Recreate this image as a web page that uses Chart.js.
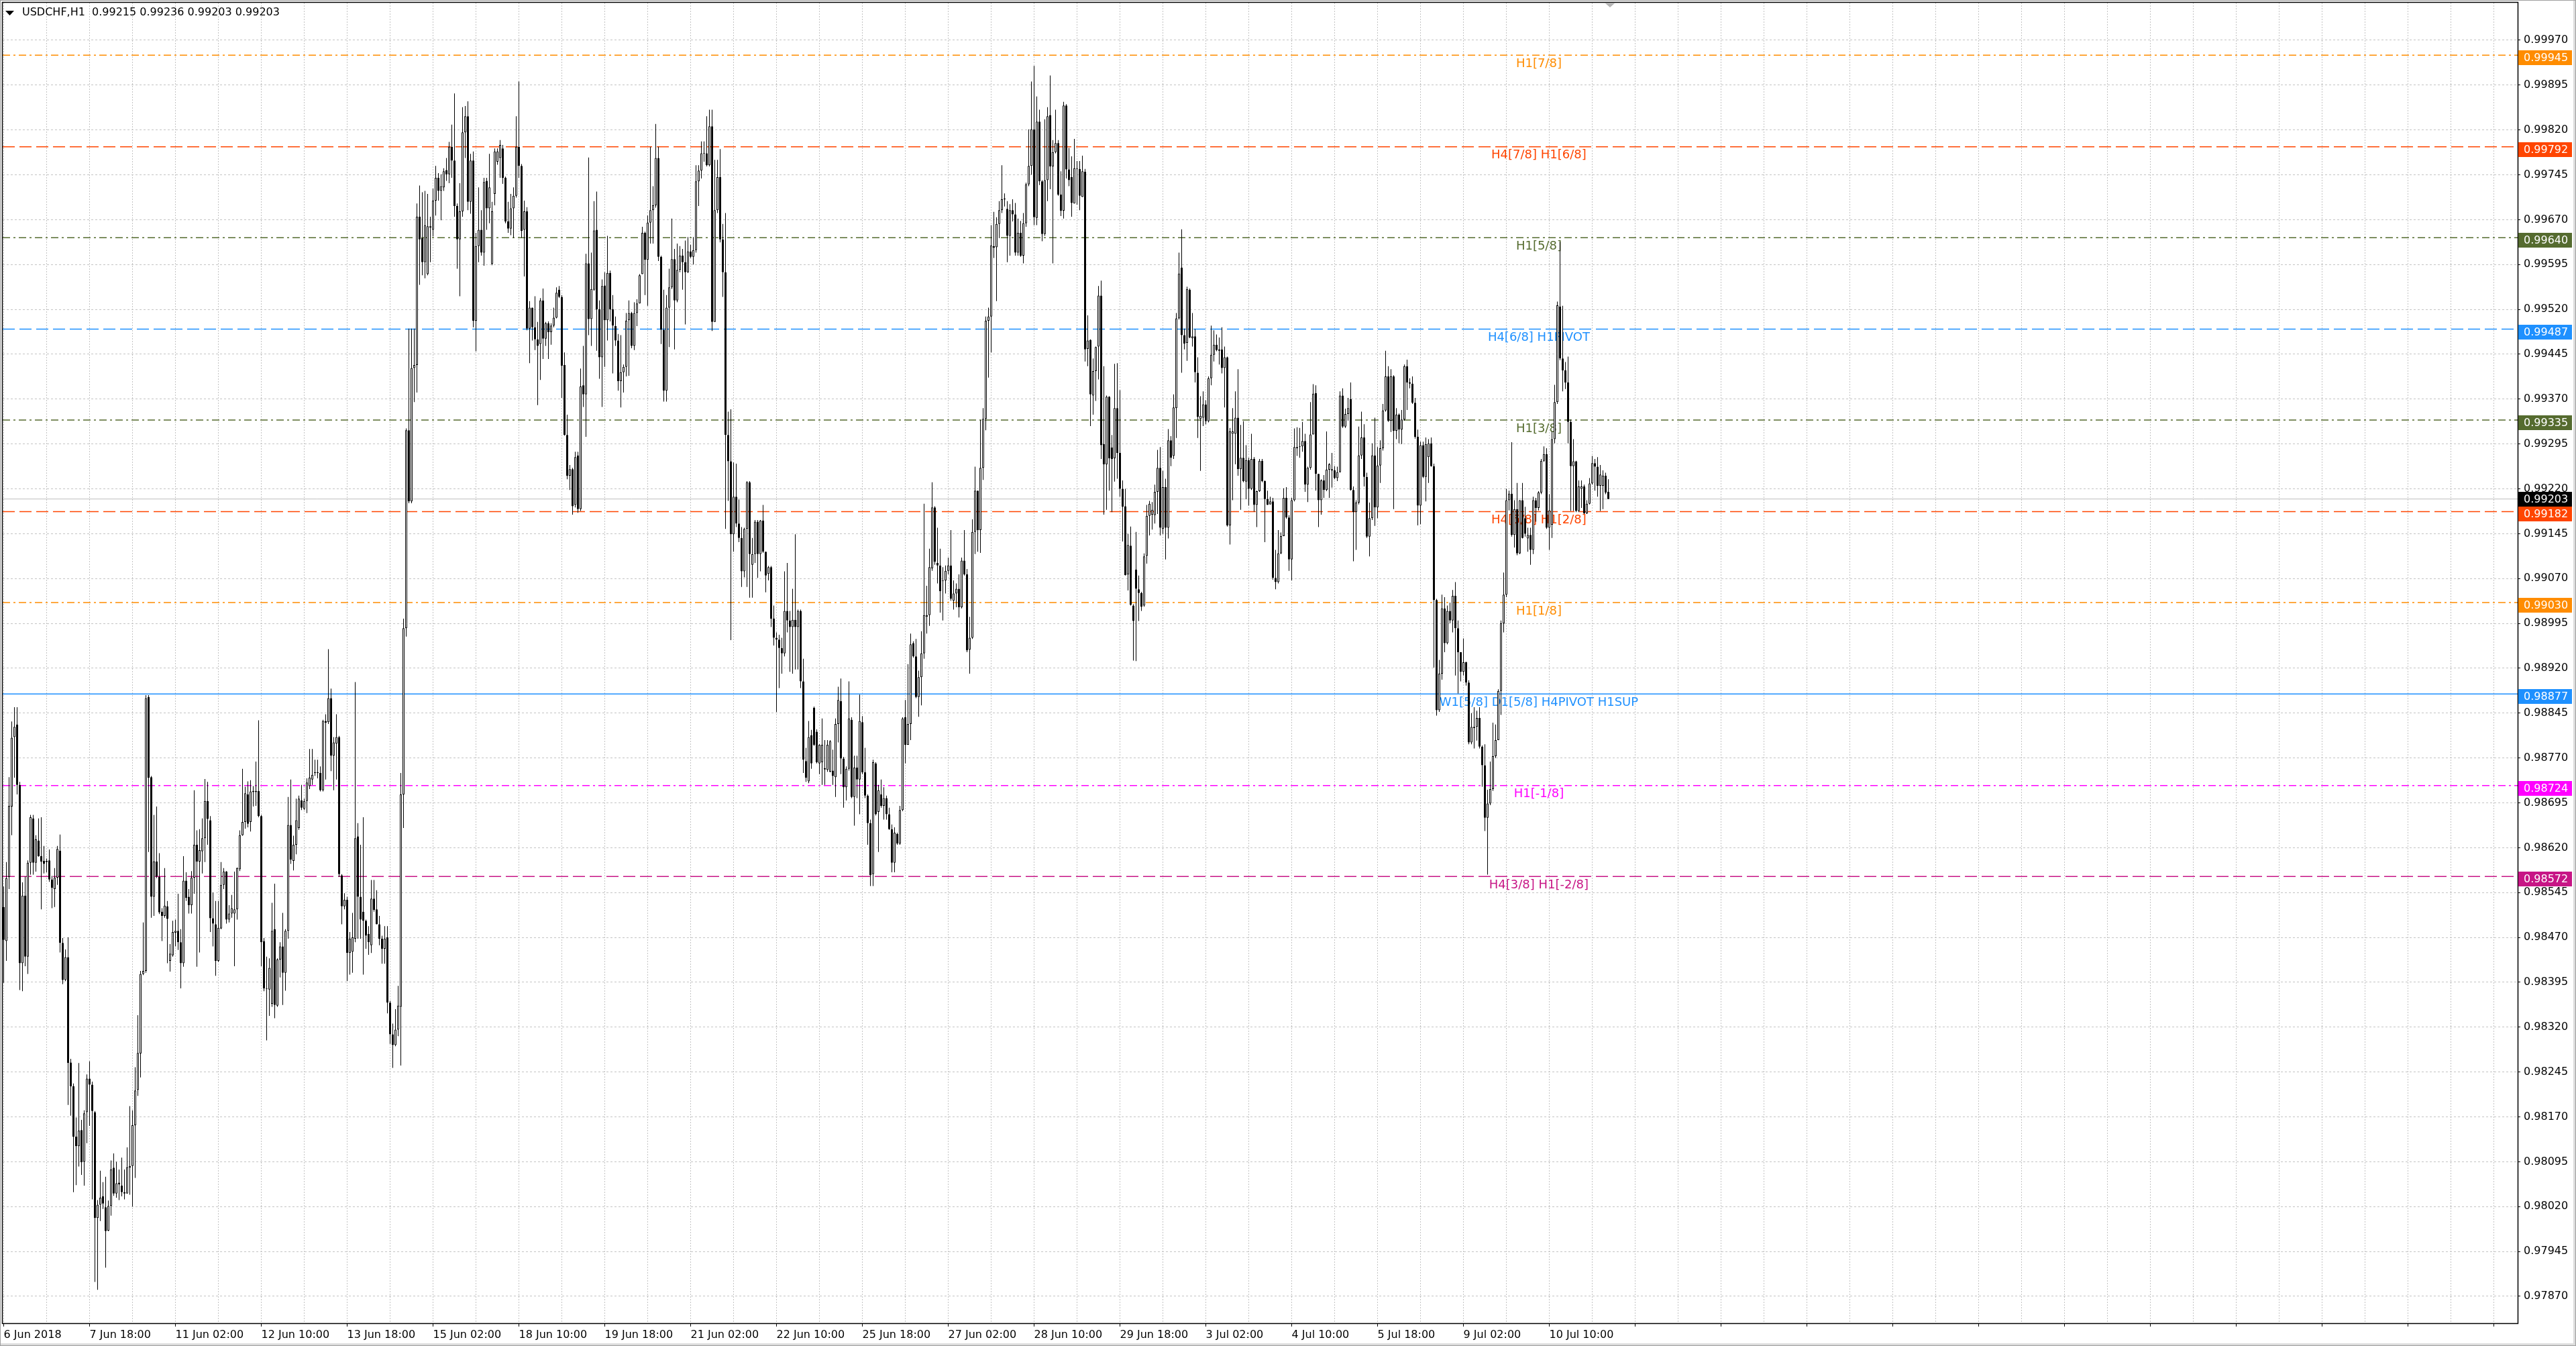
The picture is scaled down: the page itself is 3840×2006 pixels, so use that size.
<!DOCTYPE html>
<html><head><meta charset="utf-8">
<script src="https://cdn.jsdelivr.net/npm/chart.js@4.4.1/dist/chart.umd.min.js"></script>
<style>html,body{margin:0;padding:0;background:#fff;overflow:hidden}canvas{display:block}</style>
</head><body>
<canvas id="c" width="3840" height="2006" style="width:3840px;height:2006px"></canvas>
<script>
const symbol = "USDCHF,H1";
const timeLabels = ["6 Jun 2018","7 Jun 18:00","11 Jun 02:00","12 Jun 10:00","13 Jun 18:00","15 Jun 02:00","18 Jun 10:00","19 Jun 18:00","21 Jun 02:00","22 Jun 10:00","25 Jun 18:00","27 Jun 02:00","28 Jun 10:00","29 Jun 18:00","3 Jul 02:00","4 Jul 10:00","5 Jul 18:00","9 Jul 02:00","10 Jul 10:00"];
const priceTicks = [0.97870,0.97945,0.98020,0.98095,0.98170,0.98245,0.98320,0.98395,0.98470,0.98545,0.98620,0.98695,0.98770,0.98845,0.98920,0.98995,0.99070,0.99145,0.99220,0.99295,0.99370,0.99445,0.99520,0.99595,0.99670,0.99745,0.99820,0.99895,0.99970];
const levelPrices = [0.99945,0.99792,0.99640,0.99487,0.99335,0.99182,0.99030,0.98877,0.98724,0.98572];
const levelNames = ["H1[7/8]","H4[7/8] H1[6/8]","H1[5/8]","H4[6/8] H1PIVOT","H1[3/8]","H4[5/8] H1[2/8]","H1[1/8]","W1[5/8] D1[5/8] H4PIVOT H1SUP","H1[-1/8]","H4[3/8] H1[-2/8]"];
const bidPrice = 0.99203;

const open = [
0.98521,0.98464,0.98571,0.98689,0.98805,0.98826,0.98725,0.98427,0.98540,0.98438,0.98595,0.98669,0.98595,0.98632,0.98606,0.98598,0.98598,0.98599,0.98567,0.98551,
0.98570,0.98615,0.98461,0.98399,0.98437,0.98261,0.98221,0.98137,0.98121,0.98148,0.98095,0.98178,0.98234,0.98224,0.98178,0.98001,0.98023,0.98037,0.98019,0.97980,
0.98021,0.98085,0.98042,0.98060,0.98055,0.98042,0.98042,0.98085,0.98088,0.98156,0.98215,0.98276,0.98409,0.98414,0.98872,0.98738,0.98538,0.98597,0.98571,0.98513,
0.98506,0.98522,0.98431,0.98440,0.98478,0.98481,0.98462,0.98427,0.98565,0.98538,0.98524,0.98570,0.98625,0.98597,0.98614,0.98636,0.98698,0.98666,0.98502,0.98492,
0.98431,0.98485,0.98558,0.98580,0.98500,0.98510,0.98510,0.98517,0.98584,0.98641,0.98663,0.98709,0.98663,0.98713,0.98713,0.98715,0.98673,0.98464,0.98384,0.98383,
0.98359,0.98484,0.98356,0.98433,0.98455,0.98411,0.98481,0.98658,0.98598,0.98625,0.98653,0.98699,0.98685,0.98698,0.98723,0.98734,0.98745,0.98746,0.98745,0.98716,
0.98832,0.98830,0.98870,0.98774,0.98794,0.98805,0.98574,0.98522,0.98533,0.98444,0.98446,0.98468,0.98639,0.98538,0.98513,0.98498,0.98476,0.98457,0.98535,0.98517,
0.98492,0.98468,0.98451,0.98470,0.98361,0.98308,0.98290,0.98316,0.98354,0.98709,0.98987,0.99318,0.99199,0.99422,0.99427,0.99675,0.99639,0.99599,0.99579,0.99659,
0.99653,0.99702,0.99740,0.99718,0.99724,0.99753,0.99746,0.99792,0.99769,0.99693,0.99637,0.99684,0.99816,0.99843,0.99700,0.99769,0.99501,0.99626,0.99653,0.99615,
0.99735,0.99689,0.99596,0.99713,0.99767,0.99773,0.99789,0.99740,0.99667,0.99655,0.99689,0.99710,0.99792,0.99760,0.99653,0.99684,0.99488,0.99523,0.99490,0.99470,
0.99462,0.99535,0.99471,0.99497,0.99482,0.99493,0.99506,0.99553,0.99541,0.99427,0.99310,0.99242,0.99253,0.99193,0.99276,0.99186,0.99393,0.99378,0.99597,0.99504,
0.99553,0.99653,0.99520,0.99440,0.99560,0.99502,0.99581,0.99520,0.99492,0.99468,0.99400,0.99415,0.99424,0.99502,0.99514,0.99459,0.99514,0.99530,0.99579,0.99648,
0.99603,0.99665,0.99686,0.99694,0.99773,0.99608,0.99486,0.99384,0.99523,0.99557,0.99604,0.99535,0.99586,0.99610,0.99599,0.99582,0.99617,0.99608,0.99619,0.99734,
0.99752,0.99781,0.99781,0.99761,0.99826,0.99499,0.99686,0.99741,0.99637,0.99582,0.99310,0.99266,0.99144,0.99207,0.99162,0.99138,0.99082,0.99153,0.99231,0.99093,
0.99111,0.99165,0.99111,0.99167,0.99115,0.99078,0.99089,0.99003,0.98971,0.98968,0.98954,0.98945,0.99016,0.99000,0.98989,0.99001,0.98989,0.99016,0.98898,0.98765,
0.98731,0.98808,0.98854,0.98814,0.98761,0.98763,0.98753,0.98750,0.98747,0.98749,0.98738,0.98827,0.98865,0.98769,0.98721,0.98752,0.98834,0.98705,0.98754,0.98734,
0.98830,0.98746,0.98707,0.98661,0.98576,0.98761,0.98680,0.98709,0.98690,0.98703,0.98676,0.98651,0.98595,0.98643,0.98627,0.98683,0.98838,0.98792,0.98827,0.98962,
0.98940,0.98872,0.98905,0.98945,0.99006,0.99009,0.99087,0.99189,0.99096,0.99092,0.99066,0.99067,0.99083,0.99092,0.99033,0.99045,0.99053,0.99022,0.99100,0.99077,
0.98951,0.98971,0.99148,0.99217,0.99151,0.99255,0.99337,0.99501,0.99508,0.99626,0.99624,0.99663,0.99686,0.99704,0.99688,0.99643,0.99686,0.99679,0.99615,0.99648,
0.99610,0.99664,0.99729,0.99760,0.99821,0.99673,0.99834,0.99734,0.99646,0.99736,0.99845,0.99759,0.99783,0.99798,0.99712,0.99685,0.99861,0.99754,0.99741,0.99697,
0.99756,0.99755,0.99708,0.99750,0.99454,0.99469,0.99376,0.99417,0.99458,0.99543,0.99295,0.99261,0.99374,0.99289,0.99271,0.99355,0.99280,0.99220,0.99191,0.99077,
0.99125,0.99025,0.99085,0.99052,0.99046,0.99025,0.99108,0.99175,0.99177,0.99176,0.99215,0.99255,0.99153,0.99223,0.99155,0.99301,0.99275,0.99355,0.99505,0.99590,
0.99477,0.99464,0.99553,0.99472,0.99475,0.99414,0.99337,0.99339,0.99361,0.99333,0.99405,0.99444,0.99461,0.99451,0.99453,0.99422,0.99440,0.99159,0.99312,0.99312,
0.99339,0.99253,0.99272,0.99232,0.99268,0.99220,0.99270,0.99193,0.99216,0.99267,0.99233,0.99203,0.99194,0.99199,0.99071,0.99064,0.99112,0.99141,0.99205,0.99172,
0.99102,0.99201,0.99288,0.99290,0.99291,0.99300,0.99227,0.99255,0.99311,0.99380,0.99245,0.99201,0.99234,0.99218,0.99252,0.99253,0.99251,0.99238,0.99248,0.99376,
0.99324,0.99345,0.99370,0.99218,0.99181,0.99197,0.99276,0.99306,0.99240,0.99140,0.99171,0.99276,0.99189,0.99259,0.99288,0.99351,0.99408,0.99334,0.99408,0.99317,
0.99344,0.99319,0.99336,0.99425,0.99398,0.99396,0.99364,0.99307,0.99192,0.99293,0.99240,0.99273,0.99296,0.99258,0.99034,0.98850,0.98911,0.99020,0.98962,0.99016,
0.99000,0.99041,0.98987,0.98947,0.98914,0.98930,0.98896,0.98796,0.98820,0.98822,0.98837,0.98789,0.98758,0.98670,0.98694,0.98718,0.98773,0.98800,0.98882,0.98995,
0.99043,0.99201,0.99212,0.99143,0.99186,0.99112,0.99201,0.99171,0.99137,0.99143,0.99118,0.99201,0.99188,0.99214,0.99267,0.99278,0.99155,0.99160,0.99303,0.99365,
0.99525,0.99438,0.99418,0.99398,0.99332,0.99258,0.99266,0.99183,0.99220,0.99224,0.99179,0.99195,0.99229,0.99263,0.99257,0.99225,0.99225,0.99242,0.99215];

const high = [
0.98555,0.98596,0.98738,0.98831,0.98855,0.98855,0.98730,0.98562,0.98572,0.98599,0.98675,0.98675,0.98641,0.98669,0.98671,0.98623,0.98602,0.98617,0.98573,0.98586,
0.98623,0.98642,0.98469,0.98450,0.98470,0.98267,0.98226,0.98169,0.98260,0.98165,0.98181,0.98241,0.98263,0.98229,0.98180,0.98031,0.98080,0.98061,0.98070,0.98030,
0.98097,0.98109,0.98095,0.98082,0.98102,0.98082,0.98119,0.98188,0.98181,0.98253,0.98340,0.98414,0.98495,0.98875,0.98875,0.98740,0.98675,0.98689,0.98611,0.98519,
0.98586,0.98531,0.98459,0.98498,0.98500,0.98543,0.98484,0.98606,0.98579,0.98551,0.98581,0.98716,0.98649,0.98651,0.98669,0.98735,0.98730,0.98673,0.98545,0.98531,
0.98531,0.98596,0.98586,0.98581,0.98524,0.98541,0.98580,0.98587,0.98649,0.98752,0.98722,0.98731,0.98733,0.98723,0.98764,0.98833,0.98675,0.98469,0.98438,0.98435,
0.98528,0.98560,0.98435,0.98462,0.98511,0.98484,0.98705,0.98734,0.98640,0.98702,0.98707,0.98725,0.98702,0.98736,0.98785,0.98785,0.98767,0.98767,0.98756,0.98834,
0.98843,0.98952,0.98886,0.98805,0.98843,0.98807,0.98576,0.98544,0.98538,0.98479,0.98511,0.98897,0.98661,0.98625,0.98671,0.98500,0.98489,0.98566,0.98566,0.98549,
0.98506,0.98473,0.98489,0.98489,0.98364,0.98326,0.98350,0.98389,0.98745,0.99003,0.99321,0.99488,0.99488,0.99488,0.99697,0.99727,0.99716,0.99718,0.99713,0.99675,
0.99722,0.99760,0.99748,0.99746,0.99756,0.99773,0.99800,0.99829,0.99881,0.99697,0.99731,0.99858,0.99860,0.99868,0.99780,0.99784,0.99648,0.99724,0.99686,0.99740,
0.99740,0.99780,0.99700,0.99789,0.99789,0.99803,0.99795,0.99742,0.99700,0.99713,0.99724,0.99843,0.99901,0.99763,0.99702,0.99691,0.99534,0.99523,0.99542,0.99499,
0.99539,0.99555,0.99499,0.99500,0.99497,0.99523,0.99557,0.99559,0.99544,0.99448,0.99344,0.99260,0.99255,0.99282,0.99282,0.99421,0.99459,0.99613,0.99774,0.99615,
0.99701,0.99717,0.99535,0.99570,0.99582,0.99643,0.99585,0.99544,0.99508,0.99479,0.99477,0.99428,0.99514,0.99535,0.99516,0.99532,0.99537,0.99579,0.99658,0.99650,
0.99677,0.99792,0.99726,0.99830,0.99792,0.99610,0.99553,0.99544,0.99588,0.99672,0.99621,0.99630,0.99626,0.99621,0.99635,0.99641,0.99628,0.99641,0.99761,0.99761,
0.99801,0.99801,0.99843,0.99854,0.99854,0.99770,0.99770,0.99788,0.99663,0.99681,0.99349,0.99353,0.99264,0.99262,0.99202,0.99156,0.99155,0.99233,0.99233,0.99138,
0.99168,0.99168,0.99168,0.99193,0.99115,0.99091,0.99091,0.99025,0.98980,0.98976,0.98971,0.99082,0.99096,0.99016,0.99053,0.99144,0.99018,0.99018,0.98936,0.98787,
0.98832,0.98817,0.98856,0.98818,0.98793,0.98836,0.98800,0.98800,0.98800,0.98784,0.98836,0.98889,0.98903,0.98772,0.98756,0.98898,0.98838,0.98774,0.98774,0.98876,
0.98840,0.98787,0.98709,0.98667,0.98767,0.98763,0.98725,0.98734,0.98721,0.98707,0.98687,0.98659,0.98654,0.98645,0.98690,0.98838,0.98867,0.98927,0.98978,0.98965,
0.98969,0.98916,0.98982,0.99195,0.99058,0.99120,0.99231,0.99191,0.99155,0.99120,0.99089,0.99092,0.99105,0.99151,0.99067,0.99062,0.99077,0.99105,0.99151,0.99086,
0.99006,0.99169,0.99257,0.99217,0.99335,0.99355,0.99508,0.99523,0.99661,0.99683,0.99674,0.99701,0.99761,0.99714,0.99701,0.99696,0.99704,0.99698,0.99672,0.99668,
0.99681,0.99732,0.99821,0.99901,0.99927,0.99876,0.99854,0.99736,0.99838,0.99858,0.99911,0.99803,0.99854,0.99803,0.99751,0.99867,0.99863,0.99790,0.99776,0.99805,
0.99768,0.99768,0.99777,0.99755,0.99510,0.99470,0.99438,0.99458,0.99559,0.99568,0.99425,0.99376,0.99375,0.99310,0.99429,0.99430,0.99385,0.99234,0.99220,0.99145,
0.99157,0.99027,0.99148,0.99075,0.99048,0.99112,0.99193,0.99200,0.99198,0.99227,0.99285,0.99290,0.99250,0.99237,0.99320,0.99308,0.99378,0.99514,0.99615,0.99654,
0.99488,0.99558,0.99555,0.99514,0.99487,0.99440,0.99375,0.99383,0.99368,0.99408,0.99493,0.99485,0.99478,0.99473,0.99490,0.99458,0.99441,0.99322,0.99355,0.99383,
0.99420,0.99327,0.99333,0.99293,0.99272,0.99312,0.99273,0.99217,0.99270,0.99270,0.99234,0.99217,0.99207,0.99205,0.99118,0.99151,0.99147,0.99221,0.99223,0.99176,
0.99205,0.99321,0.99323,0.99322,0.99332,0.99312,0.99257,0.99365,0.99395,0.99393,0.99245,0.99236,0.99243,0.99316,0.99263,0.99280,0.99258,0.99257,0.99383,0.99388,
0.99354,0.99372,0.99398,0.99224,0.99201,0.99324,0.99349,0.99328,0.99247,0.99197,0.99296,0.99339,0.99290,0.99301,0.99362,0.99451,0.99425,0.99420,0.99410,0.99355,
0.99346,0.99352,0.99428,0.99436,0.99405,0.99408,0.99372,0.99319,0.99299,0.99299,0.99306,0.99303,0.99306,0.99262,0.99036,0.98934,0.99043,0.99039,0.99025,0.99030,
0.99051,0.99064,0.99000,0.98947,0.98970,0.98931,0.98900,0.98845,0.98855,0.98849,0.98855,0.98791,0.98793,0.98717,0.98764,0.98829,0.98826,0.98885,0.99000,0.99080,
0.99220,0.99217,0.99298,0.99201,0.99230,0.99201,0.99230,0.99190,0.99155,0.99155,0.99207,0.99205,0.99216,0.99270,0.99291,0.99288,0.99211,0.99316,0.99394,0.99533,
0.99633,0.99526,0.99432,0.99441,0.99336,0.99303,0.99267,0.99234,0.99234,0.99227,0.99201,0.99238,0.99275,0.99270,0.99273,0.99260,0.99251,0.99247,0.99236];

const low = [
0.98394,0.98431,0.98551,0.98641,0.98737,0.98709,0.98382,0.98380,0.98422,0.98409,0.98575,0.98575,0.98580,0.98605,0.98517,0.98577,0.98579,0.98563,0.98519,0.98521,
0.98558,0.98445,0.98392,0.98397,0.98190,0.98172,0.98044,0.98056,0.98087,0.98073,0.98055,0.98126,0.98155,0.98032,0.97894,0.97881,0.97996,0.98016,0.97918,0.97979,
0.98005,0.98038,0.98035,0.98031,0.98037,0.98032,0.98042,0.98040,0.98020,0.98068,0.98205,0.98236,0.98407,0.98411,0.98613,0.98503,0.98506,0.98569,0.98509,0.98464,
0.98503,0.98427,0.98413,0.98438,0.98455,0.98449,0.98385,0.98421,0.98531,0.98510,0.98510,0.98543,0.98421,0.98445,0.98577,0.98596,0.98625,0.98479,0.98455,0.98406,
0.98429,0.98484,0.98551,0.98493,0.98495,0.98503,0.98422,0.98500,0.98581,0.98640,0.98652,0.98654,0.98647,0.98689,0.98690,0.98671,0.98422,0.98380,0.98298,0.98339,
0.98354,0.98335,0.98354,0.98403,0.98357,0.98381,0.98468,0.98593,0.98582,0.98609,0.98650,0.98683,0.98683,0.98678,0.98718,0.98725,0.98740,0.98736,0.98714,0.98714,
0.98734,0.98827,0.98748,0.98716,0.98734,0.98571,0.98492,0.98517,0.98397,0.98408,0.98411,0.98462,0.98468,0.98468,0.98408,0.98451,0.98441,0.98444,0.98513,0.98492,
0.98457,0.98426,0.98426,0.98343,0.98292,0.98252,0.98288,0.98305,0.98256,0.98653,0.98973,0.99196,0.99196,0.99365,0.99381,0.99561,0.99577,0.99572,0.99577,0.99599,
0.99642,0.99677,0.99702,0.99669,0.99718,0.99735,0.99731,0.99740,0.99675,0.99588,0.99542,0.99675,0.99773,0.99686,0.99680,0.99490,0.99450,0.99599,0.99610,0.99593,
0.99653,0.99664,0.99594,0.99694,0.99762,0.99740,0.99730,0.99664,0.99648,0.99644,0.99640,0.99707,0.99740,0.99640,0.99575,0.99485,0.99430,0.99468,0.99452,0.99360,
0.99402,0.99437,0.99459,0.99437,0.99461,0.99490,0.99505,0.99539,0.99372,0.99309,0.99236,0.99218,0.99177,0.99189,0.99180,0.99183,0.99357,0.99307,0.99477,0.99459,
0.99551,0.99451,0.99404,0.99357,0.99424,0.99468,0.99500,0.99413,0.99459,0.99384,0.99356,0.99381,0.99408,0.99409,0.99455,0.99452,0.99492,0.99530,0.99579,0.99544,
0.99526,0.99630,0.99630,0.99690,0.99601,0.99462,0.99366,0.99366,0.99457,0.99554,0.99453,0.99532,0.99582,0.99553,0.99495,0.99581,0.99606,0.99595,0.99615,0.99693,
0.99739,0.99767,0.99759,0.99759,0.99484,0.99499,0.99681,0.99632,0.99541,0.99153,0.99200,0.98967,0.99115,0.99156,0.99131,0.99056,0.99072,0.99056,0.99038,0.99038,
0.99096,0.99071,0.99082,0.99113,0.99047,0.99067,0.98989,0.98958,0.98847,0.98887,0.98911,0.98940,0.98980,0.98914,0.98911,0.98918,0.98918,0.98887,0.98745,0.98730,
0.98728,0.98752,0.98790,0.98761,0.98743,0.98725,0.98725,0.98747,0.98746,0.98725,0.98705,0.98796,0.98743,0.98687,0.98699,0.98749,0.98703,0.98657,0.98703,0.98676,
0.98743,0.98703,0.98625,0.98556,0.98556,0.98674,0.98613,0.98687,0.98667,0.98667,0.98650,0.98579,0.98579,0.98625,0.98625,0.98681,0.98761,0.98792,0.98800,0.98938,
0.98870,0.98839,0.98858,0.98936,0.98978,0.98991,0.99083,0.99093,0.99062,0.99013,0.99000,0.99045,0.99077,0.99033,0.99018,0.99022,0.99005,0.99020,0.99075,0.98947,
0.98911,0.98969,0.99111,0.99115,0.99113,0.99235,0.99318,0.99406,0.99448,0.99606,0.99534,0.99639,0.99681,0.99692,0.99599,0.99610,0.99667,0.99610,0.99610,0.99608,
0.99597,0.99658,0.99726,0.99745,0.99661,0.99661,0.99728,0.99634,0.99643,0.99701,0.99721,0.99597,0.99781,0.99710,0.99676,0.99672,0.99739,0.99726,0.99675,0.99697,
0.99695,0.99686,0.99708,0.99433,0.99425,0.99325,0.99344,0.99367,0.99403,0.99270,0.99177,0.99185,0.99217,0.99181,0.99232,0.99237,0.99207,0.99132,0.99075,0.99050,
0.99025,0.98933,0.98932,0.98999,0.99016,0.99023,0.99095,0.99142,0.99152,0.99162,0.99178,0.99142,0.99145,0.99102,0.99137,0.99258,0.99270,0.99305,0.99503,0.99414,
0.99453,0.99434,0.99472,0.99458,0.99398,0.99305,0.99250,0.99325,0.99328,0.99331,0.99393,0.99433,0.99450,0.99428,0.99413,0.99356,0.99157,0.99127,0.99201,0.99261,
0.99242,0.99185,0.99231,0.99203,0.99192,0.99218,0.99182,0.99156,0.99215,0.99231,0.99131,0.99193,0.99194,0.99068,0.99052,0.99062,0.99111,0.99141,0.99170,0.99083,
0.99067,0.99199,0.99275,0.99272,0.99282,0.99215,0.99198,0.99252,0.99311,0.99217,0.99156,0.99177,0.99205,0.99216,0.99205,0.99222,0.99236,0.99233,0.99247,0.99322,
0.99322,0.99334,0.99217,0.99099,0.99118,0.99194,0.99270,0.99224,0.99138,0.99107,0.99168,0.99158,0.99171,0.99230,0.99284,0.99349,0.99332,0.99315,0.99186,0.99303,
0.99296,0.99295,0.99334,0.99352,0.99388,0.99362,0.99304,0.99159,0.99161,0.99238,0.99199,0.99230,0.99257,0.98921,0.98841,0.98847,0.98901,0.98947,0.98960,0.98995,
0.98980,0.98908,0.98878,0.98898,0.98908,0.98891,0.98793,0.98793,0.98786,0.98799,0.98786,0.98722,0.98648,0.98575,0.98691,0.98715,0.98770,0.98800,0.98842,0.98980,
0.99039,0.99184,0.99140,0.99122,0.99109,0.99111,0.99137,0.99140,0.99115,0.99093,0.99111,0.99165,0.99184,0.99211,0.99265,0.99153,0.99118,0.99138,0.99296,0.99362,
0.99435,0.99383,0.99387,0.99296,0.99183,0.99183,0.99181,0.99181,0.99188,0.99178,0.99178,0.99194,0.99227,0.99217,0.99207,0.99183,0.99186,0.99211,0.99203];

const close = [
0.98466,0.98569,0.98690,0.98804,0.98822,0.98725,0.98427,0.98540,0.98438,0.98595,0.98671,0.98595,0.98634,0.98606,0.98597,0.98593,0.98596,0.98567,0.98553,0.98570,
0.98618,0.98461,0.98399,0.98437,0.98260,0.98221,0.98137,0.98121,0.98147,0.98094,0.98176,0.98234,0.98224,0.98180,0.98001,0.98023,0.98035,0.98025,0.97979,0.98021,
0.98082,0.98042,0.98059,0.98057,0.98044,0.98044,0.98086,0.98088,0.98156,0.98214,0.98277,0.98409,0.98414,0.98870,0.98737,0.98538,0.98597,0.98572,0.98512,0.98506,
0.98523,0.98501,0.98443,0.98479,0.98481,0.98462,0.98427,0.98565,0.98536,0.98524,0.98570,0.98625,0.98597,0.98616,0.98636,0.98698,0.98668,0.98502,0.98493,0.98431,
0.98486,0.98558,0.98580,0.98500,0.98510,0.98519,0.98517,0.98586,0.98641,0.98663,0.98711,0.98660,0.98714,0.98715,0.98715,0.98673,0.98462,0.98385,0.98385,0.98419,
0.98481,0.98357,0.98433,0.98455,0.98411,0.98481,0.98658,0.98600,0.98625,0.98666,0.98702,0.98687,0.98698,0.98729,0.98737,0.98742,0.98746,0.98745,0.98716,0.98832,
0.98829,0.98870,0.98774,0.98796,0.98805,0.98576,0.98522,0.98533,0.98444,0.98468,0.98470,0.98636,0.98538,0.98500,0.98498,0.98473,0.98462,0.98535,0.98516,0.98492,
0.98468,0.98451,0.98468,0.98361,0.98308,0.98290,0.98316,0.98356,0.98709,0.98987,0.99318,0.99199,0.99422,0.99427,0.99675,0.99637,0.99599,0.99661,0.99659,0.99657,
0.99702,0.99740,0.99718,0.99726,0.99751,0.99746,0.99792,0.99769,0.99693,0.99637,0.99684,0.99816,0.99843,0.99700,0.99769,0.99501,0.99626,0.99653,0.99615,0.99733,
0.99689,0.99724,0.99684,0.99784,0.99784,0.99795,0.99740,0.99667,0.99655,0.99689,0.99710,0.99792,0.99760,0.99651,0.99684,0.99488,0.99523,0.99490,0.99470,0.99459,
0.99535,0.99471,0.99497,0.99482,0.99493,0.99506,0.99548,0.99541,0.99426,0.99310,0.99242,0.99253,0.99191,0.99273,0.99186,0.99391,0.99378,0.99597,0.99504,0.99554,
0.99652,0.99520,0.99440,0.99559,0.99502,0.99581,0.99520,0.99493,0.99468,0.99400,0.99415,0.99424,0.99501,0.99514,0.99459,0.99514,0.99530,0.99577,0.99648,0.99603,
0.99665,0.99686,0.99694,0.99773,0.99608,0.99486,0.99384,0.99523,0.99557,0.99604,0.99535,0.99586,0.99610,0.99599,0.99582,0.99617,0.99608,0.99619,0.99734,0.99752,
0.99781,0.99780,0.99761,0.99826,0.99499,0.99686,0.99741,0.99637,0.99582,0.99310,0.99266,0.99144,0.99207,0.99162,0.99138,0.99082,0.99153,0.99231,0.99111,0.99111,
0.99165,0.99111,0.99167,0.99115,0.99075,0.99089,0.99003,0.98971,0.98968,0.98954,0.98945,0.99016,0.99000,0.98989,0.99001,0.98989,0.99016,0.98898,0.98767,0.98737,
0.98805,0.98761,0.98792,0.98763,0.98792,0.98792,0.98751,0.98792,0.98798,0.98740,0.98827,0.98867,0.98769,0.98721,0.98752,0.98836,0.98705,0.98754,0.98734,0.98832,
0.98746,0.98707,0.98661,0.98574,0.98763,0.98676,0.98716,0.98690,0.98703,0.98676,0.98651,0.98595,0.98645,0.98627,0.98683,0.98836,0.98792,0.98827,0.98960,0.98940,
0.98872,0.98905,0.98945,0.99009,0.99009,0.99089,0.99189,0.99098,0.99092,0.99049,0.99067,0.99083,0.99092,0.99036,0.99045,0.99053,0.99022,0.99100,0.99077,0.98950,
0.98971,0.99148,0.99217,0.99151,0.99255,0.99337,0.99501,0.99508,0.99627,0.99623,0.99663,0.99686,0.99704,0.99705,0.99643,0.99686,0.99679,0.99615,0.99648,0.99610,
0.99664,0.99729,0.99760,0.99821,0.99674,0.99834,0.99734,0.99646,0.99736,0.99843,0.99759,0.99783,0.99798,0.99712,0.99685,0.99861,0.99754,0.99736,0.99698,0.99756,
0.99755,0.99710,0.99751,0.99453,0.99468,0.99378,0.99417,0.99457,0.99543,0.99293,0.99261,0.99374,0.99271,0.99270,0.99355,0.99280,0.99220,0.99190,0.99076,0.99126,
0.99026,0.98999,0.99053,0.99046,0.99023,0.99107,0.99175,0.99195,0.99185,0.99215,0.99255,0.99155,0.99223,0.99155,0.99301,0.99272,0.99356,0.99505,0.99580,0.99477,
0.99463,0.99554,0.99473,0.99475,0.99415,0.99340,0.99342,0.99361,0.99333,0.99405,0.99444,0.99461,0.99452,0.99453,0.99422,0.99440,0.99159,0.99316,0.99316,0.99339,
0.99253,0.99272,0.99233,0.99268,0.99220,0.99270,0.99193,0.99216,0.99267,0.99233,0.99203,0.99193,0.99199,0.99071,0.99064,0.99112,0.99141,0.99205,0.99172,0.99102,
0.99201,0.99290,0.99290,0.99291,0.99300,0.99227,0.99255,0.99311,0.99379,0.99245,0.99201,0.99234,0.99218,0.99252,0.99261,0.99251,0.99238,0.99248,0.99376,0.99324,
0.99345,0.99355,0.99218,0.99181,0.99197,0.99276,0.99306,0.99240,0.99140,0.99171,0.99276,0.99189,0.99259,0.99288,0.99351,0.99408,0.99334,0.99408,0.99317,0.99344,
0.99319,0.99336,0.99425,0.99398,0.99396,0.99364,0.99307,0.99192,0.99293,0.99240,0.99295,0.99296,0.99258,0.99034,0.98850,0.98911,0.99020,0.98962,0.99016,0.99000,
0.99041,0.98987,0.98947,0.98914,0.98930,0.98896,0.98796,0.98822,0.98822,0.98837,0.98789,0.98758,0.98670,0.98694,0.98718,0.98773,0.98800,0.98882,0.98995,0.99043,
0.99201,0.99212,0.99143,0.99186,0.99112,0.99201,0.99138,0.99145,0.99143,0.99118,0.99201,0.99188,0.99214,0.99267,0.99278,0.99155,0.99184,0.99303,0.99365,0.99527,
0.99438,0.99418,0.99398,0.99332,0.99258,0.99266,0.99183,0.99224,0.99224,0.99179,0.99195,0.99229,0.99263,0.99257,0.99225,0.99244,0.99242,0.99214,0.99203];

// ---------- styling (not data) ----------
const levelColors = ['#FF8C00','#FF4500','#556B2F','#1E90FF','#556B2F','#FF4500','#FF8C00','#1E90FF','#FF00FF','#C71585'];
const levelStyles = ['dashdot','dash','dashdot','dash','dashdot','dash','dashdot','solid','dashdot','dash'];
const dashOf = s => s === 'dash' ? [18, 7] : s === 'dashdot' ? [11, 5, 3, 5] : [];
const FONT = '"DejaVu Sans", Verdana, sans-serif';
const X_MIN = -0.375, X_MAX = 936.875;       // bar i sits at pixel 5.5 + 4*i
const Y_MIN = 0.978251, Y_MAX = 1.000328;
const LABEL_BAR = 572.1;                      // horizontal anchor of the level captions
const gridBars = []; for (let v = 0; v <= 928; v += 16) gridBars.push(v);

const idx = close.map((_, i) => i);
const wickData = idx.map(i => ({x: i, y: [low[i], high[i]]}));
const bodyData = idx.map(i => ({x: i, y: [open[i], close[i]]}));
const bodyFill = idx.map(i => close[i] >= open[i] ? '#ffffff' : '#000000');

const levelSets = levelPrices.map((p, k) => ({
  type: 'line', data: [{x: X_MIN, y: p}, {x: X_MAX, y: p}],
  borderColor: levelColors[k], borderWidth: 1.5, borderDash: dashOf(levelStyles[k]),
  pointRadius: 0, tension: 0, order: 5
}));
levelSets.push({type: 'line', data: [{x: X_MIN, y: bidPrice}, {x: X_MAX, y: bidPrice}],
  borderColor: '#bdbdbd', borderWidth: 1, pointRadius: 0, order: 6});

const mtPlugin = {
  id: 'mt',
  beforeDraw(chart) {
    const c = chart.ctx; c.save(); c.fillStyle = '#fff'; c.fillRect(0, 0, chart.width, chart.height); c.restore();
  },
  beforeDatasetsDraw(chart) {
    const c = chart.ctx, xs = chart.scales.x, ys = chart.scales.y;
    c.save();
    c.font = '18px ' + FONT; c.textAlign = 'center'; c.textBaseline = 'top';
    const cx = xs.getPixelForValue(LABEL_BAR);
    levelPrices.forEach((p, k) => { c.fillStyle = levelColors[k]; c.fillText(levelNames[k], cx, ys.getPixelForValue(p) + 4); });
    c.restore();
  },
  afterDraw(chart) {
    const c = chart.ctx, ys = chart.scales.y, a = chart.chartArea;
    c.save();
    // plot frame
    c.strokeStyle = '#000'; c.lineWidth = 1.5;
    c.strokeRect(a.left - 0.5, a.top - 0.5, a.right - a.left + 1, a.bottom - a.top + 1);
    // price tags on the axis
    c.font = '16px ' + FONT; c.textAlign = 'left'; c.textBaseline = 'middle';
    const tag = (p, bg, dy) => {
      const y = Math.round(ys.getPixelForValue(p)) + dy;
      c.fillStyle = bg; c.fillRect(a.right + 1, y - 11, 80, 22);
      c.fillStyle = '#fff'; c.fillText(p.toFixed(5), a.right + 9, y + 1);
    };
    levelPrices.forEach((p, k) => tag(p, levelColors[k], 4));
    tag(bidPrice, '#000', 0);
    // header
    const n = close.length - 1;
    c.fillStyle = '#000';
    c.beginPath(); c.moveTo(8, 16); c.lineTo(21, 16); c.lineTo(14.5, 23); c.closePath(); c.fill();
    c.font = '16px ' + FONT; c.textBaseline = 'middle';
    c.fillText(symbol + '  ' + [open[n], high[n], low[n], close[n]].map(v => v.toFixed(5)).join(' '), 33, 19);
    // chart shift marker
    c.fillStyle = '#b4b4b4';
    c.beginPath(); c.moveTo(2392, 4); c.lineTo(2408, 4); c.lineTo(2400, 11); c.closePath(); c.fill();
    // window frame
    c.fillStyle = '#dcdcdc';
    c.fillRect(0, chart.height - 4, chart.width, 4);
    c.fillRect(chart.width - 4, 0, 4, chart.height);
    c.strokeStyle = '#a0a0a0'; c.lineWidth = 1;
    c.strokeRect(0.5, 0.5, chart.width - 1, chart.height - 1);
    c.restore();
  }
};

new Chart(document.getElementById('c'), {
  type: 'bar',
  data: {
    datasets: [
      {label: 'body', data: bodyData, backgroundColor: bodyFill, borderColor: '#000', borderWidth: 1,
       borderSkipped: false, barThickness: 3, minBarLength: 1, grouped: false, inflateAmount: 0, order: 0},
      {label: 'wick', data: wickData, backgroundColor: '#000', borderWidth: 0,
       barThickness: 1, grouped: false, inflateAmount: 0, order: 1},
      ...levelSets
    ]
  },
  options: {
    responsive: false, animation: false, events: [],
    layout: {padding: {left: 4, top: 4, right: 0, bottom: 0}},
    plugins: {legend: {display: false}, tooltip: {enabled: false}},
    scales: {
      x: {
        type: 'linear', min: X_MIN, max: X_MAX, offset: false,
        afterBuildTicks: s => { s.ticks = gridBars.map(v => ({value: v})); },
        afterFit: s => { s.height = 34; s.paddingLeft = 0; s.paddingRight = 0; },
        ticks: {
          autoSkip: false, maxRotation: 0, minRotation: 0, align: 'start', padding: 3,
          color: '#000', font: {family: FONT, size: 16},
          callback: v => { const k = v / 32; return (Number.isInteger(k) && k < timeLabels.length) ? timeLabels[k] : ''; }
        },
        grid: {color: '#c4c4c4', lineWidth: 1, offset: false, drawTicks: true, tickLength: 5, tickWidth: 1,
               tickColor: ctx => (ctx.tick && ctx.tick.value % 32 === 0) ? '#000' : 'rgba(0,0,0,0)'},
        border: {display: false, dash: [2, 2]}
      },
      y: {
        type: 'linear', position: 'right', min: Y_MIN, max: Y_MAX,
        afterBuildTicks: s => { s.ticks = priceTicks.map(v => ({value: v})); },
        afterFit: s => { s.width = 87; s.paddingTop = 0; s.paddingBottom = 0; },
        ticks: {autoSkip: false, padding: 5, color: '#000', font: {family: FONT, size: 16},
                callback: v => Number(v).toFixed(5)},
        grid: {color: '#c4c4c4', lineWidth: 1, drawTicks: true, tickLength: 4, tickWidth: 1, tickColor: '#000'},
        border: {display: false, dash: [3, 3]}
      }
    }
  },
  plugins: [mtPlugin]
});
</script>
</body></html>
